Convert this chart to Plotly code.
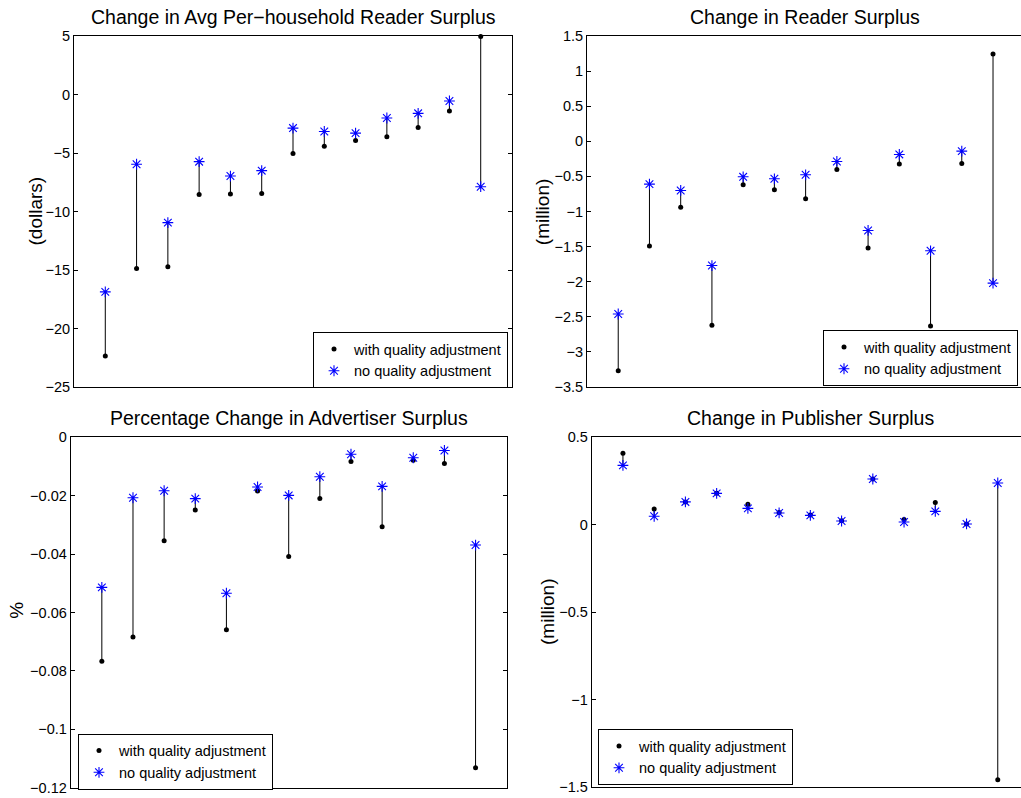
import plotly.graph_objects as go

# ---------------- data ----------------
markets = list(range(1, 14))

avg_with = [-22.34, -14.87, -14.73, -8.54, -8.51, -8.46, -5.05, -4.42, -3.93, -3.62, -2.82, -1.41, 4.95]
avg_no = [-16.87, -5.96, -10.95, -5.74, -6.97, -6.51, -2.87, -3.16, -3.30, -2.01, -1.61, -0.55, -7.88]

reader_with = [-3.27, -1.49, -0.94, -2.62, -0.62, -0.69, -0.82, -0.40, -1.52, -0.325, -2.63, -0.315, 1.243]
reader_no = [-2.46, -0.61, -0.70, -1.77, -0.506, -0.534, -0.477, -0.287, -1.27, -0.187, -1.56, -0.14, -2.02]

adv_with = [-0.0767, -0.0684, -0.0354, -0.0249, -0.0659, -0.0184, -0.0408, -0.0210, -0.0083, -0.0306, -0.0079, -0.0090, -0.1132]
adv_no = [-0.0514, -0.0207, -0.0183, -0.0210, -0.0534, -0.0170, -0.0199, -0.0135, -0.0058, -0.0168, -0.0070, -0.0045, -0.0369]

pub_with = [0.407, 0.089, 0.129, 0.178, 0.115, 0.068, 0.054, 0.022, 0.260, 0.028, 0.125, 0.003, -1.458]
pub_no = [0.338, 0.047, 0.129, 0.178, 0.092, 0.066, 0.052, 0.020, 0.260, 0.014, 0.075, 0.003, 0.237]

titles = ["Change in Avg Per\u2212household Reader Surplus", "Change in Reader Surplus",
          "Percentage Change in Advertiser Surplus", "Change in Publisher Surplus"]
ylabels = ["(dollars)", "(million)", "%", "(million)"]
legend_names = ["with quality adjustment", "no quality adjustment"]

tick_avg = [-25, -20, -15, -10, -5, 0, 5]
tick_avg_txt = ["\u221225", "\u221220", "\u221215", "\u221210", "\u22125", "0", "5"]
tick_reader = [-3.5, -3, -2.5, -2, -1.5, -1, -0.5, 0, 0.5, 1, 1.5]
tick_reader_txt = ["\u22123.5", "\u22123", "\u22122.5", "\u22122", "\u22121.5", "\u22121", "\u22120.5", "0", "0.5", "1", "1.5"]
tick_adv = [-0.12, -0.1, -0.08, -0.06, -0.04, -0.02, 0]
tick_adv_txt = ["\u22120.12", "\u22120.1", "\u22120.08", "\u22120.06", "\u22120.04", "\u22120.02", "0"]
tick_pub = [-1.5, -1, -0.5, 0, 0.5]
tick_pub_txt = ["\u22121.5", "\u22121", "\u22120.5", "0", "0.5"]

# ---------------- layout geometry (page pixels) ----------------
W, H = 1021, 798
FONT = "Liberation Sans, Arial, Helvetica, sans-serif"


def px(v):
    return v / W


def py(v):
    return 1 - v / H


panels = [
    dict(w=avg_with, n=avg_no, xd=(74, 512), yd=(36, 387), xr=(0, 14), yr=(-25, 5),
         tv=tick_avg, tt=tick_avg_txt, mirror="ticks",
         title=(293, 16.7), ylab=(35, 211.5), leg=(313, 332)),
    dict(w=reader_with, n=reader_no, xd=(587, W), yd=(36, 387), xr=(0, 13.896), yr=(-3.5, 1.5),
         tv=tick_reader, tt=tick_reader_txt, mirror=False,
         title=(805, 16.7), ylab=(542.7, 211.5), leg=(823, 330)),
    dict(w=adv_with, n=adv_no, xd=(70.7, 506.7), yd=(437.3, 787.7), xr=(0, 14), yr=(-0.12, 0),
         tv=tick_adv, tt=tick_adv_txt, mirror="ticks",
         title=(288.5, 418), ylab=(15.7, 610), leg=(78, 733.5)),
    dict(w=pub_with, n=pub_no, xd=(591.7, W), yd=(437, 787), xr=(0, 13.744), yr=(-1.5, 0.5),
         tv=tick_pub, tt=tick_pub_txt, mirror=False,
         title=(810, 418), ylab=(547, 612), leg=(598, 729)),
]

fig = go.Figure()
annotations = []
layout_axes = {}

for i, p in enumerate(panels):
    k = "" if i == 0 else str(i + 1)
    xa, ya = "x" + k, "y" + k
    leg = "legend" + k

    segx, segy = [], []
    for xv, a, b in zip(markets, p["w"], p["n"]):
        segx += [xv, xv, None]
        segy += [a, b, None]
    fig.add_trace(go.Scatter(x=segx, y=segy, mode="lines", xaxis=xa, yaxis=ya,
                             line=dict(color="black", width=1), showlegend=False,
                             hoverinfo="skip"))
    fig.add_trace(go.Scatter(x=markets, y=p["w"], mode="markers", xaxis=xa, yaxis=ya,
                             name=legend_names[0], legend=leg, cliponaxis=False,
                             marker=dict(symbol="circle", size=5, color="black")))
    fig.add_trace(go.Scatter(x=markets, y=p["n"], mode="markers", xaxis=xa, yaxis=ya,
                             name=legend_names[1], legend=leg, cliponaxis=False,
                             marker=dict(symbol="asterisk-open", size=9, color="#0000ff",
                                         line=dict(color="#0000ff", width=1.1))))

    layout_axes["xaxis" + k] = dict(
        domain=[max(0, px(p["xd"][0])), min(1, px(p["xd"][1]))], range=list(p["xr"]), anchor=ya,
        showgrid=False, zeroline=False, showticklabels=False, ticks="", automargin=False,
        showline=True, linecolor="black", linewidth=1, mirror=True)
    layout_axes["yaxis" + k] = dict(
        domain=[py(p["yd"][1]), py(p["yd"][0])], range=list(p["yr"]), anchor=xa,
        showgrid=False, zeroline=False, tickmode="array", tickvals=p["tv"], ticktext=p["tt"],
        ticks="inside", ticklen=4, tickcolor="black", tickwidth=1, automargin=False,
        tickfont=dict(family=FONT, size=14.5, color="black"),
        showline=True, linecolor="black", linewidth=1, mirror=p["mirror"])
    layout_axes[leg] = dict(
        x=px(p["leg"][0]), y=py(p["leg"][1]), xanchor="left", yanchor="top",
        bgcolor="white", bordercolor="black", borderwidth=1,
        font=dict(family=FONT, size=14.5, color="black"), traceorder="normal",
        tracegroupgap=0, itemclick=False)

    annotations.append(dict(text=titles[i], x=px(p["title"][0]), y=py(p["title"][1]),
                            xref="paper", yref="paper", showarrow=False,
                            xanchor="center", yanchor="middle",
                            font=dict(family=FONT, size=19.5, color="black")))
    annotations.append(dict(text=ylabels[i], x=px(p["ylab"][0]), y=py(p["ylab"][1]),
                            xref="paper", yref="paper", showarrow=False, textangle=-90,
                            xanchor="center", yanchor="middle",
                            font=dict(family=FONT, size=19, color="black")))

# right-hand tick marks of the "Change in Reader Surplus" panel (its border lies just off-page)
layout_axes["yaxis5"] = dict(
    overlaying="y2", side="right", anchor="free", position=1.0,
    domain=layout_axes["yaxis2"]["domain"], range=[-3.5, 1.5],
    tickmode="array", tickvals=tick_reader, showticklabels=False,
    ticks="inside", ticklen=4, tickcolor="black", tickwidth=1,
    showline=False, showgrid=False, zeroline=False, automargin=False)

fig.update_layout(
    width=W, height=H, margin=dict(l=0, r=0, t=0, b=0, pad=0, autoexpand=False),
    paper_bgcolor="white", plot_bgcolor="white",
    font=dict(family=FONT, color="black"),
    annotations=annotations, **layout_axes)

fig.write_html("out.html", config={"displayModeBar": False},
               post_script="document.body.style.margin='0px';"
                           "document.body.style.overflow='hidden';")
